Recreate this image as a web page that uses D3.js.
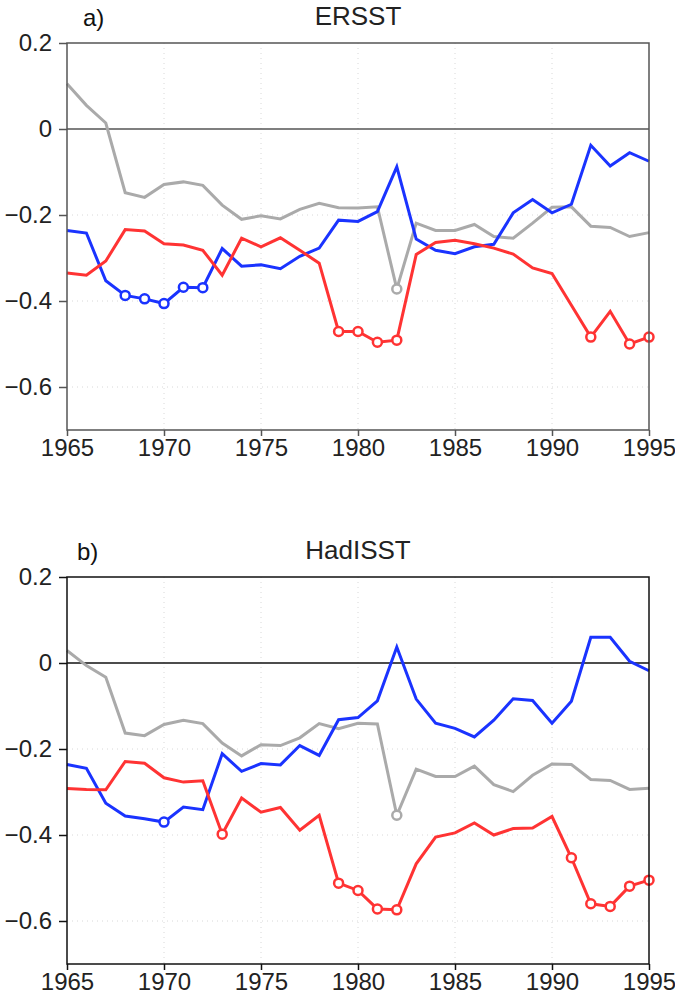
<!DOCTYPE html>
<html>
<head>
<meta charset="utf-8">
<script src="https://cdn.jsdelivr.net/npm/d3@7"></script>
<style>
  body { margin: 0; background: #fff; }
  svg { display: block; font-family: 'Liberation Sans', Arial, sans-serif; }
</style>
</head>
<body>
<svg id="chart" width="675" height="994"></svg>
<script>
// Years on the x axis, shared by both panels.
const years = d3.range(1965, 1996);

// a) ERSST
const ersstGray = [0.105, 0.055, 0.014, -0.148, -0.159, -0.129, -0.123, -0.131, -0.177, -0.210,
  -0.202, -0.209, -0.187, -0.173, -0.183, -0.184, -0.181, -0.372, -0.219, -0.236,
  -0.236, -0.222, -0.250, -0.254, -0.219, -0.182, -0.181, -0.226, -0.229, -0.250, -0.241];
const ersstBlue = [-0.236, -0.242, -0.353, -0.387, -0.395, -0.406, -0.368, -0.369, -0.278, -0.319,
  -0.316, -0.325, -0.296, -0.277, -0.212, -0.215, -0.192, -0.088, -0.256, -0.282,
  -0.290, -0.274, -0.268, -0.195, -0.164, -0.195, -0.175, -0.038, -0.086, -0.055, -0.075];
const ersstRed = [-0.335, -0.340, -0.307, -0.234, -0.237, -0.267, -0.270, -0.282, -0.340, -0.254,
  -0.274, -0.253, -0.282, -0.312, -0.471, -0.471, -0.496, -0.491, -0.292, -0.264,
  -0.259, -0.267, -0.277, -0.291, -0.323, -0.336, -0.410, -0.484, -0.424, -0.500, -0.484];
// years that get an open circle
const ersstGrayMarks = [1982];
const ersstBlueMarks = [1968, 1969, 1970, 1971, 1972];
const ersstRedMarks = [1979, 1980, 1981, 1982, 1992, 1994, 1995];

// b) HadISST
const hadGray = [0.029, -0.006, -0.033, -0.163, -0.169, -0.143, -0.133, -0.141, -0.186, -0.216,
  -0.190, -0.192, -0.174, -0.141, -0.153, -0.140, -0.142, -0.354, -0.247, -0.264,
  -0.264, -0.240, -0.283, -0.299, -0.261, -0.235, -0.236, -0.271, -0.273, -0.294, -0.291];
const hadBlue = [-0.236, -0.245, -0.326, -0.356, -0.362, -0.370, -0.335, -0.341, -0.211, -0.252,
  -0.234, -0.237, -0.192, -0.215, -0.132, -0.127, -0.088, 0.037, -0.084, -0.140,
  -0.152, -0.172, -0.133, -0.083, -0.087, -0.140, -0.089, 0.060, 0.060, 0.004, -0.018];
const hadRed = [-0.292, -0.294, -0.295, -0.229, -0.233, -0.267, -0.277, -0.274, -0.398, -0.314,
  -0.347, -0.336, -0.389, -0.354, -0.512, -0.529, -0.572, -0.574, -0.467, -0.405,
  -0.395, -0.372, -0.400, -0.385, -0.384, -0.357, -0.453, -0.560, -0.566, -0.519, -0.505];
const hadGrayMarks = [1982];
const hadBlueMarks = [1970];
const hadRedMarks = [1973, 1979, 1980, 1981, 1982, 1991, 1992, 1993, 1994, 1995];

const yTicks = [0.2, 0, -0.2, -0.4, -0.6];
const xTicks = [1965, 1970, 1975, 1980, 1985, 1990, 1995];

const GRAY = '#aaaaaa';
const BLUE = '#1a33ff';
const RED = '#ff3333';

const svg = d3.select('#chart');

function drawPanel({ top, label, labelX, title, frameColor, series }) {
  const left = 67;
  const right = 649;
  const height = 387;

  const x = d3.scaleLinear().domain([1965, 1995]).range([left, right]);
  const y = d3.scaleLinear().domain([-0.7, 0.2]).range([top + height, top]);

  const g = svg.append('g');

  // dotted grid
  g.append('g')
    .selectAll('line')
    .data(yTicks.filter((v) => v !== 0 && v !== 0.2))
    .join('line')
    .attr('x1', left).attr('x2', right)
    .attr('y1', (d) => y(d)).attr('y2', (d) => y(d))
    .attr('stroke', '#d8d8d8')
    .attr('stroke-width', 1)
    .attr('stroke-dasharray', '1,4');
  g.append('g')
    .selectAll('line')
    .data(xTicks.slice(1, -1))
    .join('line')
    .attr('x1', (d) => x(d)).attr('x2', (d) => x(d))
    .attr('y1', top).attr('y2', top + height)
    .attr('stroke', '#d8d8d8')
    .attr('stroke-width', 1)
    .attr('stroke-dasharray', '1,4');

  // zero line
  g.append('line')
    .attr('x1', left).attr('x2', right)
    .attr('y1', y(0)).attr('y2', y(0))
    .attr('stroke', frameColor)
    .attr('stroke-width', 1.5);

  // data lines, gray underneath
  const line = d3.line().x((_, i) => x(years[i])).y((d) => y(d));
  series.forEach((s) => {
    g.append('path')
      .datum(s.values)
      .attr('d', line)
      .attr('fill', 'none')
      .attr('stroke', s.color)
      .attr('stroke-width', 3)
      .attr('stroke-linejoin', 'miter');
  });

  // open circles on marked years
  series.forEach((s) => {
    g.append('g')
      .selectAll('circle')
      .data(s.marks)
      .join('circle')
      .attr('cx', (yr) => x(yr))
      .attr('cy', (yr) => y(s.values[years.indexOf(yr)]))
      .attr('r', 4.5)
      .attr('fill', '#fff')
      .attr('stroke', s.color)
      .attr('stroke-width', 2.5);
  });

  // frame
  g.append('rect')
    .attr('x', left).attr('y', top)
    .attr('width', right - left).attr('height', height)
    .attr('fill', 'none')
    .attr('stroke', frameColor)
    .attr('stroke-width', 1.5);

  // axes
  const yAxis = g.append('g')
    .attr('transform', `translate(${left},0)`)
    .call(d3.axisLeft(y).tickValues(yTicks).tickSize(8).tickPadding(7)
      .tickFormat((d) => (d === 0 ? '0' : d3.format('.1f')(d).replace('-', '\u2212'))));
  const xAxis = g.append('g')
    .attr('transform', `translate(0,${top + height})`)
    .call(d3.axisBottom(x).tickValues(xTicks).tickSize(6).tickPadding(3).tickFormat(d3.format('d')));
  [yAxis, xAxis].forEach((a) => {
    a.select('.domain').remove();
    a.selectAll('line').attr('stroke', frameColor).attr('stroke-width', 1.5);
    a.selectAll('text')
      .attr('fill', '#222')
      .style('font-size', '24px')
      .style('font-family', "'Liberation Sans', Arial, sans-serif");
  });

  // panel label and title
  g.append('text')
    .attr('x', labelX)
    .attr('y', top - 17)
    .attr('font-size', 24)
    .attr('fill', '#111')
    .text(label);
  g.append('text')
    .attr('x', 358)
    .attr('y', top - 18)
    .attr('text-anchor', 'middle')
    .attr('font-size', 26)
    .attr('fill', '#222')
    .text(title);
}

drawPanel({
  top: 43,
  label: 'a)',
  labelX: 83,
  title: 'ERSST',
  frameColor: '#555',
  series: [
    { values: ersstGray, color: GRAY, marks: ersstGrayMarks },
    { values: ersstBlue, color: BLUE, marks: ersstBlueMarks },
    { values: ersstRed, color: RED, marks: ersstRedMarks },
  ],
});

drawPanel({
  top: 577,
  label: 'b)',
  labelX: 77,
  title: 'HadISST',
  frameColor: '#111',
  series: [
    { values: hadGray, color: GRAY, marks: hadGrayMarks },
    { values: hadBlue, color: BLUE, marks: hadBlueMarks },
    { values: hadRed, color: RED, marks: hadRedMarks },
  ],
});
</script>
</body>
</html>
